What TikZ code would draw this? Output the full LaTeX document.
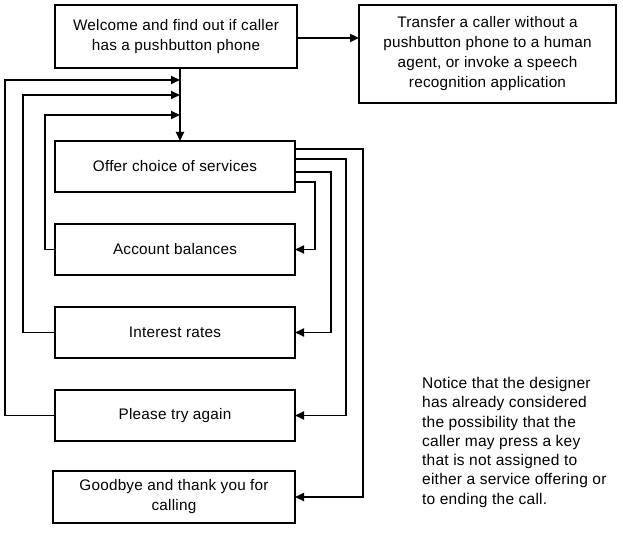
\documentclass[tikz,border=0pt]{standalone}
\usepackage{fontspec}
\setmainfont[LetterSpace=1.5]{Liberation Sans}
\usetikzlibrary{arrows.meta}
\begin{document}
\begin{tikzpicture}[x=1pt,y=-1pt,
  box/.style={draw,line width=1.4pt,inner sep=0pt,outer sep=0pt,align=center,
    font=\fontsize{15.3}{20}\selectfont},
  conn/.style={line width=1.8pt},
  arr/.style={conn,-{Triangle[length=9pt,width=8pt]}},
  note/.style={align=left,inner sep=0pt,anchor=north west,font=\fontsize{15.5}{19.3}\selectfont}]
\useasboundingbox (0,0) rectangle (623,540);
\node[box,minimum width=242pt,minimum height=63pt] (welcome) at (176,36.5) {Welcome and find out if caller\\has a pushbutton phone};
\node[box,minimum width=257pt,minimum height=98pt] (transfer) at (487.5,54) {Transfer a caller without a\\pushbutton phone to a human\\agent, or invoke a speech\\recognition application};
\node[box,minimum width=240pt,minimum height=51pt] (offer) at (175,166.5) {Offer choice of services};
\node[box,minimum width=240pt,minimum height=51pt] (account) at (175,249.5) {Account balances};
\node[box,minimum width=240pt,minimum height=51pt] (interest) at (175,332.5) {Interest rates};
\node[box,minimum width=240pt,minimum height=51pt] (please) at (175,415.5) {Please try again};
\node[box,minimum width=242pt,minimum height=52pt] (goodbye) at (174,497) {Goodbye and thank you for\\calling};
\node[note] (notice) at (422,377) {Notice that the designer\\has already considered\\the possibility that the\\caller may press a key\\that is not assigned to\\either a service offering or\\to ending the call.};
% merge points
\coordinate (vx) at (180,0);
\coordinate (m1) at (180,80);
\coordinate (m2) at (180,95);
\coordinate (m3) at (180,115);
\coordinate (w1) at (297,38);
% exits from offer
\coordinate (o1) at (295,149);
\coordinate (o2) at (295,159);
\coordinate (o3) at (295,172);
\coordinate (o4) at (295,182);
\draw[arr,line width=2.6pt] (w1) -- (w1 -| transfer.west);
\draw[arr] (welcome.south -| vx) -- (offer.north -| vx);
\draw[arr] (please.west) -- ++(-50,0) |- (m1);
\draw[arr] (interest.west) -- ++(-32,0) |- (m2);
\draw[arr] (account.west) -- ++(-10,0) |- (m3);
\draw[arr] (o4) -- (315,182) |- (account.east);
\draw[arr] (o3) -- (331,172) |- (interest.east);
\draw[arr] (o2) -- (346,159) |- (please.east);
\draw[arr] (o1) -- (363,149) |- (goodbye.east);
\end{tikzpicture}
\end{document}
